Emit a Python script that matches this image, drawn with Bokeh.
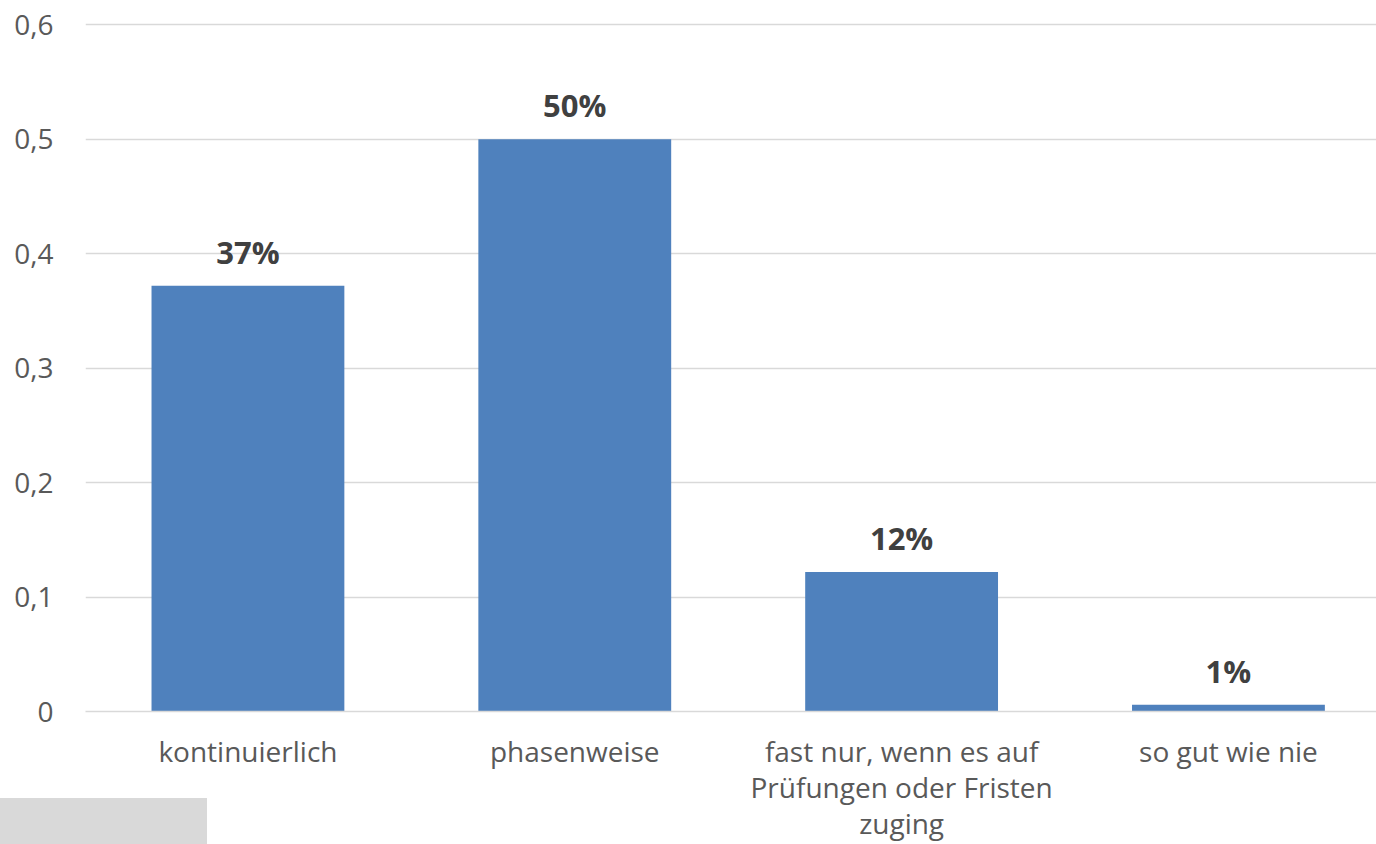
from bokeh.plotting import figure
from bokeh.models import ColumnDataSource, FixedTicker, Range1d, Div
from bokeh.layouts import column
from bokeh.core.properties import value
from bokeh.embed import file_html
from bokeh.resources import INLINE

categories = ["kontinuierlich", "phasenweise", "fast nur, wenn es auf\nPrüfungen oder Fristen\nzuging", "so gut wie nie"]
shares = [0.372, 0.500, 0.122, 0.006]
share_labels = ["37%", "50%", "12%", "1%"]
y_ticks = [0, 0.1, 0.2, 0.3, 0.4, 0.5, 0.6]
y_tick_labels = ["0", "0,1", "0,2", "0,3", "0,4", "0,5", "0,6"]

positions = list(range(len(categories)))
src = ColumnDataSource(dict(x=positions, top=shares, label=share_labels))

FONT = "Open Sans"

p = figure(width=1376, height=844, output_backend="svg", toolbar_location=None,
           x_range=Range1d(-0.497, 3.453), y_range=Range1d(0, 0.61),
           min_border_left=85, min_border_right=0, min_border_top=13, min_border_bottom=133)
p.outline_line_color = None
p.background_fill_color = "white"
p.border_fill_color = "white"

p.vbar(x="x", top="top", bottom=0, width=0.59, source=src, fill_color="#4F81BD", line_color=None)
p.text(x="x", y="top", text="label", source=src, text_align="center", text_baseline="alphabetic",
       y_offset=-34, text_font=value(FONT), text_font_style="bold", text_font_size="31px",
       text_color="#404040")

p.xaxis.ticker = FixedTicker(ticks=positions)
p.xaxis.major_label_overrides = {i: c for i, c in enumerate(categories)}
p.xaxis.major_label_text_font = FONT
p.xaxis.major_label_text_font_size = "28px"
p.xaxis.major_label_text_line_height = 0.95
p.xaxis.major_label_text_color = "#595959"
p.xaxis.major_label_standoff = 14
p.xaxis.major_tick_line_color = None
p.xaxis.minor_tick_line_color = None
p.xaxis.axis_line_color = "#D9D9D9"
p.xaxis.axis_line_width = 1.5

p.yaxis.ticker = FixedTicker(ticks=y_ticks)
p.yaxis.major_label_overrides = {t: l for t, l in zip(y_ticks, y_tick_labels)}
p.yaxis.major_label_text_font = FONT
p.yaxis.major_label_text_font_size = "28px"
p.yaxis.major_label_text_color = "#595959"
p.yaxis.major_label_standoff = 26
p.yaxis.major_tick_line_color = None
p.yaxis.minor_tick_line_color = None
p.yaxis.axis_line_color = None

p.xgrid.grid_line_color = None
p.ygrid.grid_line_color = "#D9D9D9"
p.ygrid.grid_line_width = 1.5

# grey box in the lower left corner, overlapping the bottom of the chart
box = Div(width=207, height=46, margin=(-46, 0, 0, 0),
          styles={"background-color": "#D9D9D9"})

layout = column(p, box, spacing=0)

open("out.html", "w").write(file_html(layout, INLINE))
